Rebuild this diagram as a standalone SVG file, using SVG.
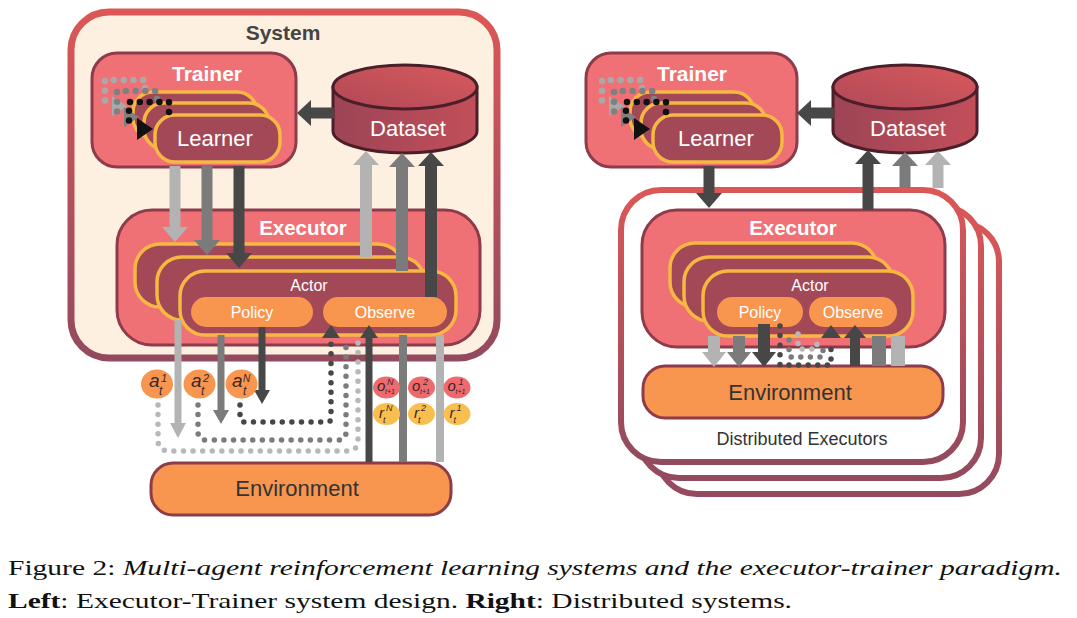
<svg xmlns="http://www.w3.org/2000/svg" width="1077" height="618" viewBox="0 0 1077 618">
<defs>
<linearGradient id="gSys" x1="0" y1="0" x2="0" y2="1"><stop offset="0" stop-color="#dc5756"/><stop offset="1" stop-color="#934a5e"/></linearGradient>
<linearGradient id="gBody" x1="0" y1="0" x2="1" y2="0"><stop offset="0" stop-color="#9c4456"/><stop offset="1" stop-color="#c24f59"/></linearGradient>
<linearGradient id="gTop" x1="0" y1="1" x2="1" y2="0"><stop offset="0" stop-color="#b04857"/><stop offset="1" stop-color="#d85a5c"/></linearGradient>
<style>
.sys{fill:#fdf0e1;stroke:url(#gSys);stroke-width:7}
.dist{fill:#fff;stroke:url(#gSys);stroke-width:6}
.box{fill:#f07175;stroke:#8e3b4b;stroke-width:3}
.agent{fill:#a34857;stroke:#f6b843;stroke-width:3.5}
.pill{fill:#f8954f}
.env{fill:#f8954f;stroke:#8e3b4b;stroke-width:3}
.dsb{fill:url(#gBody);stroke:#4b1f29;stroke-width:3}
.dst{fill:url(#gTop);stroke:#4b1f29;stroke-width:3}
.t{font-family:"Liberation Sans",Arial,sans-serif;text-anchor:middle}
.wb{fill:#fff;font-weight:bold}
.w{fill:#fff}
.dk{fill:#333}
.s1{stroke:#b3b3b3}.s2{stroke:#7b7b7b}.s3{stroke:#474747}
.f1{fill:#b3b3b3}.f2{fill:#7b7b7b}.f3{fill:#474747}
.dot{fill:none;stroke-linecap:round;stroke-dasharray:0 9.6;stroke-width:5.5}
.ld{fill:none;stroke-linecap:round;stroke-dasharray:0 9.8;stroke-width:6.5}
.ca{fill:#f8954f}.co{fill:#ef6a6e}.cr{fill:#f8bf4f}
.lv{font-family:"Liberation Sans",Arial,sans-serif;font-style:italic;fill:#3a2626}
</style>
</defs>

<!-- LEFT: System -->
<g id="system">
<rect class="sys" x="71" y="12" width="426" height="346" rx="38"/>
<text class="t" x="283" y="40" font-size="21" font-weight="bold" fill="#444">System</text>
</g>

<g id="trainer-left">
<rect class="box" x="92" y="53" width="204" height="114" rx="25"/>
<text class="t wb" x="207" y="81" font-size="21">Trainer</text>
<rect class="agent" x="133" y="92" width="124" height="46" rx="20"/>
<rect class="agent" x="144" y="103" width="125" height="46" rx="20"/>
<rect class="agent" x="155" y="115" width="125" height="47" rx="20"/>
<text class="t w" x="215" y="146" font-size="22">Learner</text>
<path class="ld" stroke="#a9a9a9" d="M145,88 L145,80 L105,80 L105,102"/>
<polygon points="112,96 112,116 127,106" fill="#a9a9a9"/>
<path class="ld" stroke="#808080" d="M157,99 L157,91 L117,91 L117,113"/>
<polygon points="124,107 124,127 139,117" fill="#808080"/>
<path class="ld" stroke="#111" d="M169,112 L169,102 L129,102 L129,124 L133,128"/>
<polygon points="137,118 137,140 153,129" fill="#111"/>
</g>

<g id="dataset-left">
<path class="dsb" d="M333,87 L333,131 A72,22 0 0 0 477,131 L477,87 Z"/>
<ellipse class="dst" cx="405" cy="87" rx="72" ry="22"/>
<text class="t w" x="408" y="136" font-size="22">Dataset</text>
</g>

<g id="executor-left">
<rect class="box" x="117" y="210" width="363" height="135" rx="35"/>
<text class="t wb" x="303" y="235" font-size="20.5">Executor</text>
<rect class="agent" x="135" y="244" width="268" height="63" rx="25"/>
<rect class="agent" x="157" y="257" width="268" height="63" rx="25"/>
<rect class="agent" x="180" y="271" width="276" height="64" rx="25"/>
<text class="t w" x="309" y="291" font-size="16">Actor</text>
<rect class="pill" x="191" y="297" width="122" height="30" rx="15"/>
<text class="t w" x="252" y="318" font-size="16">Policy</text>
<rect class="pill" x="323" y="297" width="124" height="30" rx="15"/>
<text class="t w" x="385" y="318" font-size="16">Observe</text>
</g>

<g id="environment-left">
<rect class="env" x="151" y="463" width="300" height="52" rx="22"/>
<text class="t dk" x="297" y="496" font-size="22">Environment</text>
</g>

<!-- RIGHT -->
<g id="distributed-executors">
<rect class="dist" x="657" y="222" width="342" height="272" rx="40"/>
<rect class="dist" x="639" y="206" width="342" height="272" rx="40"/>
<rect class="dist" x="621" y="190" width="342" height="272" rx="40"/>
<text class="t dk" x="802" y="445" font-size="18">Distributed Executors</text>
</g>

<g id="trainer-right">
<rect class="box" x="586" y="53" width="211" height="114" rx="25"/>
<text class="t wb" x="692" y="81" font-size="21">Trainer</text>
<rect class="agent" x="630" y="92" width="124" height="46" rx="20"/>
<rect class="agent" x="641" y="103" width="125" height="46" rx="20"/>
<rect class="agent" x="653" y="115" width="129" height="47" rx="20"/>
<text class="t w" x="716" y="146" font-size="22">Learner</text>
<path class="ld" stroke="#a9a9a9" d="M642,88 L642,80 L602,80 L602,102"/>
<polygon points="609,96 609,116 624,106" fill="#a9a9a9"/>
<path class="ld" stroke="#808080" d="M654,99 L654,91 L614,91 L614,113"/>
<polygon points="621,107 621,127 636,117" fill="#808080"/>
<path class="ld" stroke="#111" d="M666,112 L666,102 L626,102 L626,124 L630,128"/>
<polygon points="634,118 634,140 650,129" fill="#111"/>
</g>

<g id="dataset-right">
<path class="dsb" d="M833,87 L833,131 A72,22 0 0 0 977,131 L977,87 Z"/>
<ellipse class="dst" cx="905" cy="87" rx="72" ry="22"/>
<text class="t w" x="908" y="136" font-size="22">Dataset</text>
</g>

<g id="executor-right">
<rect class="box" x="642" y="210" width="303" height="137" rx="35"/>
<text class="t wb" x="793" y="235" font-size="20.5">Executor</text>
<rect class="agent" x="670" y="243" width="207" height="64" rx="25"/>
<rect class="agent" x="684" y="257" width="209" height="64" rx="25"/>
<rect class="agent" x="703" y="271" width="210" height="65" rx="25"/>
<text class="t w" x="810" y="291" font-size="16">Actor</text>
<rect class="pill" x="717" y="297" width="86" height="30" rx="15"/>
<text class="t w" x="760" y="318" font-size="16">Policy</text>
<rect class="pill" x="809" y="297" width="88" height="30" rx="15"/>
<text class="t w" x="853" y="318" font-size="16">Observe</text>
</g>

<g id="environment-right">
<rect class="env" x="643" y="366" width="300" height="52" rx="22"/>
<text class="t dk" x="790" y="400" font-size="22">Environment</text>
</g>

<g id="connectors">
<!-- left: dataset to trainer -->
<line class="s3" x1="334" y1="113" x2="309" y2="113" stroke-width="11"/>
<polygon class="f3" points="297,113 311,100 311,126"/>
<!-- left: trainer to actors -->
<line class="s1" x1="175" y1="166" x2="175" y2="229" stroke-width="11"/>
<polygon class="f1" points="162,227 188,227 175,242"/>
<line class="s2" x1="207" y1="166" x2="207" y2="242" stroke-width="11"/>
<polygon class="f2" points="194,240 220,240 207,255"/>
<line class="s3" x1="239" y1="166" x2="239" y2="255" stroke-width="11"/>
<polygon class="f3" points="226,253 252,253 239,268"/>
<!-- left: actors to dataset -->
<line class="s1" x1="366" y1="257" x2="366" y2="163" stroke-width="12"/>
<polygon class="f1" points="353,165 379,165 366,151"/>
<line class="s2" x1="402" y1="271" x2="402" y2="165" stroke-width="12"/>
<polygon class="f2" points="389,167 415,167 402,153"/>
<line class="s3" x1="431" y1="297" x2="431" y2="164" stroke-width="12"/>
<polygon class="f3" points="418,166 444,166 431,152"/>
<!-- left: actors to environment -->
<line class="s1" x1="178" y1="320" x2="178" y2="425" stroke-width="7"/>
<polygon class="f1" points="170,423 186,423 178,438"/>
<line class="s2" x1="221" y1="335" x2="221" y2="412" stroke-width="7"/>
<polygon class="f2" points="213,410 229,410 221,424"/>
<line class="s3" x1="262" y1="327" x2="262" y2="392" stroke-width="7"/>
<polygon class="f3" points="254,390 270,390 262,404"/>
<!-- left: dotted returns -->
<path class="dot" stroke="#b8b8b8" d="M158,405 L158,440 Q158,451 169,451 L347,451 Q358,451 358,440 L358,338"/>
<path class="dot" stroke="#7b7b7b" d="M198,405 L198,432 Q198,440 206,440 L338,440 Q346,440 346,432 L346,338"/>
<path class="dot" stroke="#474747" d="M240,405 L240,418 Q240,422 244,422 L327,422 Q331,422 331,418 L331,340"/>
<polygon class="f3" points="322,338 340,338 331,325"/>
<!-- left: environment to actors -->
<line class="s3" x1="369" y1="462" x2="369" y2="336" stroke-width="7"/>
<polygon class="f3" points="360,338 378,338 369,325"/>
<line class="s2" x1="403" y1="462" x2="403" y2="335" stroke-width="8"/>
<line class="s1" x1="440" y1="462" x2="440" y2="335" stroke-width="8"/>

<!-- right: dataset to trainer -->
<line class="s3" x1="834" y1="113" x2="809" y2="113" stroke-width="11"/>
<polygon class="f3" points="797,113 811,100 811,126"/>
<!-- right: trainer to executor -->
<line class="s3" x1="709" y1="166" x2="709" y2="195" stroke-width="11"/>
<polygon class="f3" points="696,193 722,193 709,208"/>
<!-- right: executors to dataset -->
<line class="s3" x1="868" y1="210" x2="868" y2="162" stroke-width="11"/>
<polygon class="f3" points="855,164 881,164 868,150"/>
<line class="s2" x1="905" y1="188" x2="905" y2="164" stroke-width="11"/>
<polygon class="f2" points="892,166 918,166 905,152"/>
<line class="s1" x1="938" y1="188" x2="938" y2="163" stroke-width="11"/>
<polygon class="f1" points="925,165 951,165 938,151"/>
<!-- right: actors to environment -->
<line class="s1" x1="714" y1="336" x2="714" y2="354" stroke-width="12"/>
<polygon class="f1" points="702,352 726,352 714,367"/>
<line class="s2" x1="739" y1="336" x2="739" y2="354" stroke-width="12"/>
<polygon class="f2" points="727,352 751,352 739,367"/>
<line class="s3" x1="764" y1="324" x2="764" y2="354" stroke-width="12"/>
<polygon class="f3" points="752,352 776,352 764,367"/>
<path class="dot" stroke="#b8b8b8" d="M798,334 L798,349 L817,349 L817,336"/>
<path class="dot" stroke="#7b7b7b" d="M789,340 L789,357 L823,357 L823,342"/>
<path class="dot" stroke="#474747" d="M780,326 L780,365 L831,365 L831,340"/>
<polygon class="f3" points="821,338 841,338 831,325"/>
<!-- right: environment to actors -->
<line class="s3" x1="855" y1="366" x2="855" y2="336" stroke-width="10"/>
<polygon class="f3" points="844,338 866,338 855,325"/>
<line class="s2" x1="879" y1="366" x2="879" y2="336" stroke-width="14"/>
<line class="s1" x1="898" y1="366" x2="898" y2="336" stroke-width="14"/>
</g>

<g id="labels-actions">
<ellipse class="ca" cx="157" cy="384" rx="16" ry="14.5"/>
<text class="lv" x="149" y="387" font-size="19">a</text><text class="lv" x="161" y="382" font-size="11">1</text><text class="lv" x="159" y="395" font-size="12">t</text>
<ellipse class="ca" cx="199.5" cy="384" rx="16" ry="14.5"/>
<text class="lv" x="191" y="387" font-size="19">a</text><text class="lv" x="203" y="382" font-size="11">2</text><text class="lv" x="201" y="395" font-size="12">t</text>
<ellipse class="ca" cx="241.5" cy="384" rx="16" ry="14.5"/>
<text class="lv" x="232" y="387" font-size="19">a</text><text class="lv" x="243" y="382" font-size="10">N</text><text class="lv" x="243" y="395" font-size="12">t</text>
</g>

<g id="labels-observations">
<ellipse class="co" cx="386.5" cy="387.5" rx="13.5" ry="11"/>
<text class="lv" x="377" y="391" font-size="15">o</text><text class="lv" x="387" y="385" font-size="9">N</text><text class="lv" x="385" y="394" font-size="7">t+1</text>
<ellipse class="co" cx="421.5" cy="387.5" rx="13.5" ry="11"/>
<text class="lv" x="412" y="391" font-size="15">o</text><text class="lv" x="423" y="385" font-size="9">2</text><text class="lv" x="420" y="394" font-size="7">t+1</text>
<ellipse class="co" cx="457" cy="387.5" rx="13.5" ry="11"/>
<text class="lv" x="447.5" y="391" font-size="15">o</text><text class="lv" x="458.5" y="385" font-size="9">1</text><text class="lv" x="455.5" y="394" font-size="7">t+1</text>
<ellipse class="cr" cx="386.5" cy="414" rx="13.5" ry="11"/>
<text class="lv" x="379" y="418" font-size="15">r</text><text class="lv" x="386" y="411" font-size="9">N</text><text class="lv" x="383" y="423" font-size="9">t</text>
<ellipse class="cr" cx="421.5" cy="414" rx="13.5" ry="11"/>
<text class="lv" x="414" y="418" font-size="15">r</text><text class="lv" x="421" y="411" font-size="9">2</text><text class="lv" x="418" y="423" font-size="9">t</text>
<ellipse class="cr" cx="457" cy="414" rx="13.5" ry="11"/>
<text class="lv" x="449.5" y="418" font-size="15">r</text><text class="lv" x="456.5" y="411" font-size="9">1</text><text class="lv" x="453.5" y="423" font-size="9">t</text>
</g>

<g id="caption" font-family="'Liberation Serif','Times New Roman',serif" font-size="22" fill="#111">
<text x="8" y="575" textLength="1054" lengthAdjust="spacingAndGlyphs">Figure 2: <tspan font-style="italic">Multi-agent reinforcement learning systems and the executor-trainer paradigm.</tspan></text>
<text x="8" y="608" textLength="784" lengthAdjust="spacingAndGlyphs"><tspan font-weight="bold">Left</tspan>: Executor-Trainer system design. <tspan font-weight="bold">Right</tspan>: Distributed systems.</text>
</g>
</svg>
